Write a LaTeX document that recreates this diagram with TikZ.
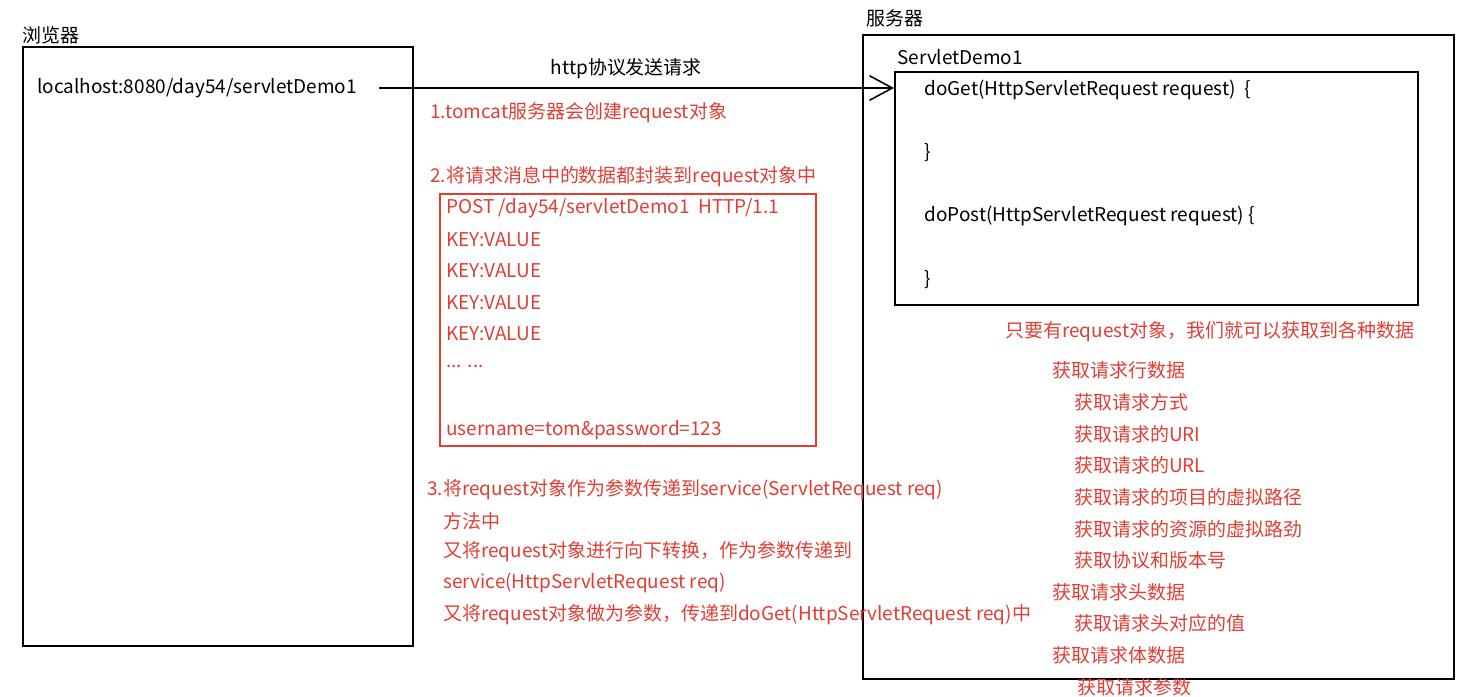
\documentclass[tikz,border=0pt]{standalone}
\usepackage{fontspec}
\setmainfont{Noto Sans CJK SC}
\usepackage{xcolor}
\usetikzlibrary{positioning,arrows.meta}
\definecolor{notered}{RGB}{224,62,52}

\begin{document}
\begin{tikzpicture}[
            x=0.02cm, y=-0.02cm,
            font=\fontsize{10.8pt}{13pt}\selectfont,
            box/.style={rectangle, draw=black, line width=1.1pt, anchor=north west, inner sep=0pt},
            redbox/.style={rectangle, draw=notered, line width=1.1pt, anchor=north west, inner sep=0pt},
            txt/.style={anchor=west, inner sep=0pt},
            note/.style={txt, text=notered},
            request/.style={-{Straight Barb[length=13pt,width=14pt]}, line width=0.9pt}
        ]
        \useasboundingbox (0,0) rectangle (1482,697);

        % browser side
        \node[txt] (browsertitle) at (22,35) {浏览器};
        \node[box, minimum width=7.8cm, minimum height=11.98cm] (browser) at (22,46) {};
        \node[txt] (url) at (37,88) {localhost:8080/day54/servletDemo1};

        % server side
        \node[txt] (servertitle) at (866,18) {服务器};
        \node[box, minimum width=11.82cm, minimum height=12.88cm] (server) at (862,34) {};
        \node[txt] (servletname) at (897,57) {ServletDemo1};
        \node[box, minimum width=10.46cm, minimum height=4.66cm] (servlet) at (894,71) {};
        \node[txt] (doget) at (924,90) {doGet(HttpServletRequest request)\ \ \{};
        \node[txt] (dogetend) at (924,153) {\}};
        \node[txt] (dopost) at (924,216) {doPost(HttpServletRequest request) \{};
        \node[txt] (dopostend) at (924,280) {\}};

        \draw[request] ([xshift=0.44cm]url.east) -- node[pos=0.48, above=5pt, inner sep=0pt] {http协议发送请求} (url.east -| servlet.west);

        % steps
        \node[note] (step1) at (430,113) {1.tomcat服务器会创建request对象};
        \node[note] (step2) at (430,177) {2.将请求消息中的数据都封装到request对象中};
        \node[redbox, minimum width=7.52cm, minimum height=5.04cm] (reqmsg) at (439,193) {};
        \node[note] (line1) at (446,208) {POST /day54/servletDemo1\ \ HTTP/1.1};
        \foreach \y in {240,271,303,334}
            \node[note] at (446,\y) {KEY:VALUE};
        \node[note] (dots) at (446,366) {... ...};
        \node[note] (body) at (446,430) {username=tom\&password=123};

        \node[note] (step3) at (427,490) {3.将request对象作为参数传递到service(ServletRequest req)};
        \node[note] (step3a) at (443,521) {方法中};
        \node[note] (step3b) at (443,552) {又将request对象进行向下转换，作为参数传递到};
        \node[note] (step3c) at (443,583) {service(HttpServletRequest req)};
        \node[note] (step3d) at (443,615) {又将request对象做为参数，传递到doGet(HttpServletRequest req)中};

        % what request offers
        \node[note] (summary) at (1005,332) {只要有request对象，我们就可以获取到各种数据};
        \foreach \x/\y/\t in {1052/370/获取请求行数据, 1074/402/获取请求方式, 1074/434/获取请求的URI,
                              1074/465/获取请求的URL, 1074/497/获取请求的项目的虚拟路径,
                              1074/529/获取请求的资源的虚拟路劲, 1074/560/获取协议和版本号,
                              1052/592/获取请求头数据, 1074/623/获取请求头对应的值,
                              1052/655/获取请求体数据, 1077/687/获取请求参数}
            \node[note] at (\x,\y) {\t};

    \end{tikzpicture}
\end{document}
